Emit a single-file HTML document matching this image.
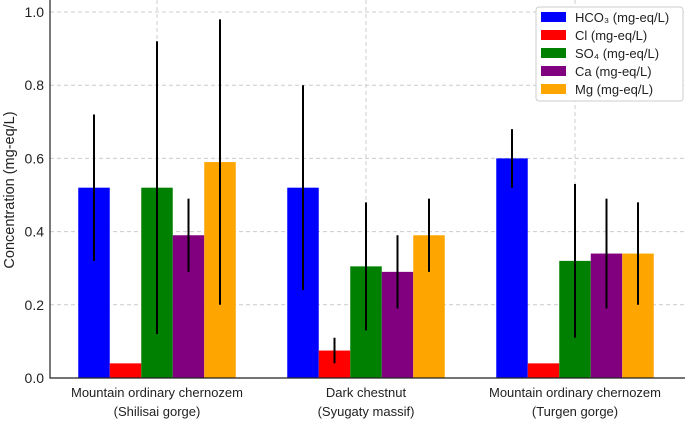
<!DOCTYPE html>
<html><head><meta charset="utf-8"><style>
body{margin:0;background:#fff;}
svg text{font-family:"Liberation Sans","DejaVu Sans",sans-serif;fill:#222;}
</style></head><body>
<svg id="chart" width="685" height="420" xmlns="http://www.w3.org/2000/svg"></svg>
<script>
const categories=[["Mountain ordinary chernozem","(Shilisai gorge)"],["Dark chestnut","(Syugaty massif)"],["Mountain ordinary chernozem","(Turgen gorge)"]];
const seriesNames=["HCO₃ (mg-eq/L)","Cl (mg-eq/L)","SO₄ (mg-eq/L)","Ca (mg-eq/L)","Mg (mg-eq/L)"];
const seriesKeys=["hco3","cl","so4","ca","mg"];
const colors=["#0000ff","#ff0000","#008000","#800080","#ffa500"];
const hco3=[0.52,0.52,0.60];
const cl=[0.04,0.075,0.04];
const so4=[0.52,0.305,0.32];
const ca=[0.39,0.29,0.34];
const mg=[0.59,0.39,0.34];
const hco3Err=[0.20,0.28,0.08];
const clErr=[0,0.035,0];
const so4Err=[0.40,0.175,0.21];
const caErr=[0.10,0.10,0.15];
const mgErr=[0.39,0.10,0.14];
const yTicks=[0.0,0.2,0.4,0.6,0.8,1.0];
const values=[hco3,cl,so4,ca,mg];
const errs=[hco3Err,clErr,so4Err,caErr,mgErr];

const NS="http://www.w3.org/2000/svg";
const svg=document.getElementById("chart");
const L=50,B=378,T=0,R=685;
const y=v=>B-v*366;
const groupX=i=>157+i*209;
const bw=31.5;
function mk(tag,attrs,parent){const e=document.createElementNS(NS,tag);for(const k in attrs)e.setAttribute(k,attrs[k]);(parent||svg).appendChild(e);return e;}

yTicks.forEach(t=>{
  const g=mk("line",{x1:L,x2:R,y1:y(t),y2:y(t),stroke:"#ccc","stroke-dasharray":"4,3","stroke-width":1});
  
  
  const tx=mk("text",{x:L-6,y:y(t)+5,"text-anchor":"end","font-size":14});
  tx.textContent=t.toFixed(1);
  
  
});
categories.forEach((c,i)=>{
  const g=mk("line",{x1:groupX(i),x2:groupX(i),y1:T,y2:B,stroke:"#ccc","stroke-dasharray":"4,3","stroke-width":1});
  
  
});
values.forEach((arr,s)=>{
  arr.forEach((v,i)=>{
    const x0=groupX(i)-2.5*bw+s*bw;
    const r=mk("rect",{x:x0,y:y(v),width:bw,height:B-y(v),fill:colors[s]});
    
    
    const e=errs[s][i];
    if(e>0){
      const l=mk("line",{x1:x0+bw/2,x2:x0+bw/2,y1:y(v-e),y2:y(v+e),stroke:"#000","stroke-width":2});
      
      
    }
  });
});
const ax=mk("path",{d:`M${L},${T} V${B} H${R}`,fill:"none",stroke:"#222","stroke-width":1.2});


categories.forEach((c,i)=>{
  c.forEach((line,j)=>{
    const t=mk("text",{x:groupX(i),y:397+j*19,"text-anchor":"middle","font-size":13});
    t.textContent=line;
    
    
  });
});
const yt=mk("text",{x:14,y:190,"text-anchor":"middle","font-size":14.5,transform:"rotate(-90 14 190)"});
yt.textContent="Concentration (mg-eq/L)";


const lg=mk("rect",{x:536,y:7,width:147,height:94,rx:3,fill:"#fff",stroke:"#ccc"});


seriesNames.forEach((n,s)=>{
  const sw=mk("rect",{x:541,y:12+s*18,width:25,height:10,fill:colors[s]});
  
  
  const t=mk("text",{x:575,y:22+s*18,"font-size":13});
  t.textContent=n;
  
  
});
</script>
</body></html>
